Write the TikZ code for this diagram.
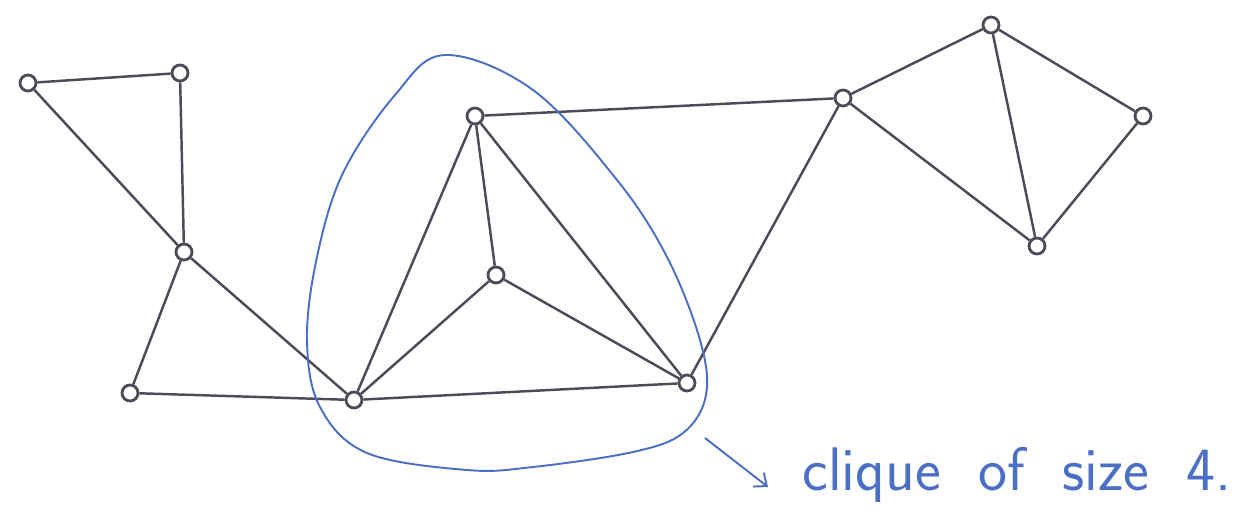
\documentclass[tikz,border=0pt]{standalone}
\usepackage{xcolor}
\usetikzlibrary{arrows.meta,calc,positioning}

\definecolor{pencil}{HTML}{4F4A57}
\definecolor{inkblue}{HTML}{4A6FC4}

\tikzset{
  vertex/.style={circle, draw=pencil, line width=1.6pt, minimum size=0.32cm, inner sep=0pt},
  edge/.style={pencil, line width=1.4pt},
  loop/.style={inkblue, line width=1.1pt},
}

\begin{document}
\begin{tikzpicture}[x=0.02cm, y=-0.02cm, >=Latex]
  \useasboundingbox (0,0) rectangle (1247,530);

  % left part
  \node[vertex] (A) at (28,83) {};
  \node[vertex] (B) at (180,73) {};
  \node[vertex] (C) at (184,252) {};
  \node[vertex] (D) at (130,393) {};
  % the clique
  \node[vertex] (E) at (354,400) {};
  \node[vertex] (F) at (475,116) {};
  \node[vertex] (G) at (496,275) {};
  \node[vertex] (H) at (687,383) {};
  % right part
  \node[vertex] (I) at (843,98) {};
  \node[vertex] (J) at (991,25) {};
  \node[vertex] (K) at (1143,116) {};
  \node[vertex] (L) at (1037,246) {};

  \foreach \u/\v in {A/B, A/C, B/C, C/D, C/E, D/E, E/F, E/G, E/H, F/G, F/H, G/H,
                     F/I, H/I, I/J, I/L, J/K, J/L, K/L}
    \draw[edge] (\u) -- (\v);

  % loop round the clique
  \draw[loop] plot[smooth cycle, tension=0.6] coordinates {
    (445,55) (533,90) (617,180) (667,257) (700,340) (706,395) (683,433)
    (633,452) (533,467) (467,470) (367,453) (320,407) (307,340)
    (317,257) (343,173) (395,95)};

  \node[inkblue, anchor=base west, inner sep=0pt, font=\fontsize{35}{40}\selectfont\sffamily] (lbl) at (802,490)
    {clique\hspace{0.75cm}of\hspace{0.75cm}size\hspace{0.75cm}4.};
  \coordinate (tail) at (705,438);
  \coordinate (tip) at (768,487);
  \draw[loop, -{Straight Barb[length=6pt, width=10pt]}] (tail) -- (tip);
\end{tikzpicture}
\end{document}
